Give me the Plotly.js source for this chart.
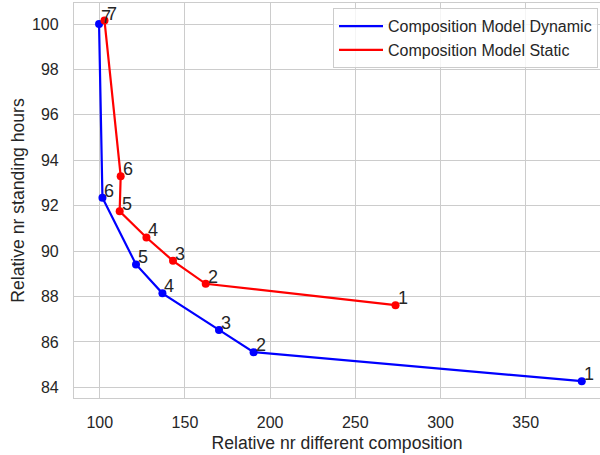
<!DOCTYPE html>
<html>
<head>
<meta charset="utf-8">
<script src="https://cdn.plot.ly/plotly-3.0.1.min.js"></script>
<style>html,body{margin:0;padding:0;background:#fff;overflow:hidden}</style>
</head>
<body>
<div id="chart" style="width:600px;height:455px"></div>
<script>
// Composition Model Dynamic
const dynX = [382.9, 190.3, 170.0, 136.8, 121.3, 101.6, 99.6];
const dynY = [84.27, 85.55, 86.53, 88.14, 89.41, 92.35, 100.0];
const dynLabels = ["1", "2", "3", "4", "5", "6", "7"];
// Composition Model Static
const statX = [273.6, 162.2, 143.0, 127.4, 111.7, 112.3, 102.8];
const statY = [87.62, 88.56, 89.57, 90.60, 91.75, 93.30, 100.15];
const statLabels = ["1", "2", "3", "4", "5", "6", "7"];
const seriesNames = ["Composition Model Dynamic", "Composition Model Static"];

const FONT = "Liberation Sans, Arial, sans-serif";
const TXT = "#262626";
const BLUE = "#0000ff", RED = "#ff0000";

const traces = [
  {x: dynX, y: dynY, mode: "lines+markers", name: seriesNames[0], showlegend: false,
   line: {color: BLUE, width: 2.2}, marker: {color: BLUE, size: 8}},
  {x: statX, y: statY, mode: "lines+markers", name: seriesNames[1], showlegend: false,
   line: {color: RED, width: 2.2}, marker: {color: RED, size: 8}},
  // legend-only entries (line sample without marker, as in the reference)
  {x: [null], y: [null], mode: "lines", name: seriesNames[0], showlegend: true,
   line: {color: BLUE, width: 2.2}, hoverinfo: "skip"},
  {x: [null], y: [null], mode: "lines", name: seriesNames[1], showlegend: true,
   line: {color: RED, width: 2.2}, hoverinfo: "skip"}
];

function labelAnns(xs, ys, labels) {
  return xs.map((x, i) => ({
    x: x, y: ys[i], xref: "x", yref: "y", text: labels[i], showarrow: false,
    xanchor: "left", yanchor: "bottom", xshift: 0, yshift: -5,
    font: {family: FONT, size: 18, color: TXT}
  }));
}

const layout = {
  width: 600, height: 455,
  margin: {l: 74, r: 0, t: 3, b: 57, pad: 0},
  paper_bgcolor: "#ffffff", plot_bgcolor: "#ffffff",
  font: {family: FONT, color: TXT, size: 16},
  showlegend: true,
  legend: {
    x: 0.9962, xanchor: "right", y: 0.987, yanchor: "top",
    bgcolor: "rgba(255,255,255,0.8)", bordercolor: "#cccccc", borderwidth: 1,
    font: {family: FONT, size: 16, color: TXT},
    traceorder: "normal", itemwidth: 44
  },
  xaxis: {
    range: [84.9, 393.6], tickmode: "linear", tick0: 100, dtick: 50,
    showgrid: true, gridcolor: "#cccccc", gridwidth: 1,
    zeroline: false, showline: true, linecolor: "#cccccc", linewidth: 1.25, mirror: true,
    ticks: "", ticklabelstandoff: 10,
    tickfont: {family: FONT, size: 16, color: TXT},
    title: {text: "Relative nr different composition", standoff: 6,
            font: {family: FONT, size: 17.6, color: TXT}},
    automargin: false
  },
  yaxis: {
    range: [83.53, 100.925], tickmode: "linear", tick0: 84, dtick: 2,
    showgrid: true, gridcolor: "#cccccc", gridwidth: 1,
    zeroline: false, showline: true, linecolor: "#cccccc", linewidth: 1.25, mirror: false,
    ticks: "", ticklabelstandoff: 11,
    tickfont: {family: FONT, size: 16, color: TXT},
    title: {text: "Relative nr standing hours", standoff: 2,
            font: {family: FONT, size: 17.6, color: TXT}},
    automargin: false
  },
  annotations: labelAnns(dynX, dynY, dynLabels).concat(labelAnns(statX, statY, statLabels))
};

Plotly.newPlot("chart", traces, layout, {displayModeBar: false, responsive: false});
</script>
</body>
</html>
